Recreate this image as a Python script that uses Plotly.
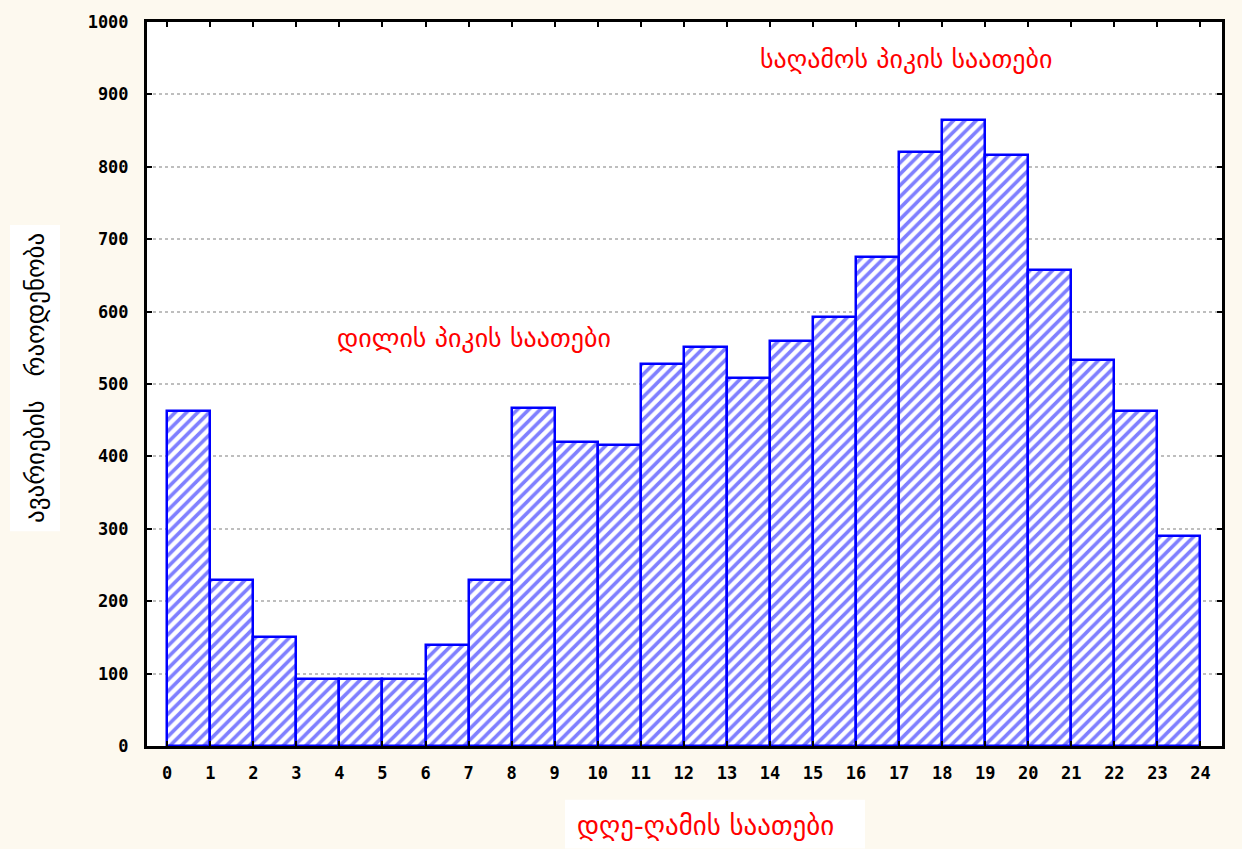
import plotly.graph_objects as go

hours = list(range(24))
counts = [463, 229, 150, 93, 93, 93, 140, 229, 467, 420, 416, 527, 551, 508,
          560, 592, 676, 821, 864, 816, 658, 533, 463, 290]
x_ticks = list(range(25))
y_ticks = list(range(0, 1001, 100))

y_title = "ავარიების   რაოდენობა"
x_title = "დღე-ღამის საათები"
morning = "დილის პიკის საათები"
evening = "საღამოს პიკის საათები"

W, H = 1242, 849
L, R, T, B = 147, 20, 18, 103
pw, ph = W - L - R, H - T - B

def px(xp):
    return (xp - L) / pw

def py(yp):
    return (H - B - yp) / ph

fig = go.Figure()
fig.add_trace(go.Bar(
    x=[h + 0.5 for h in hours], y=counts, width=1,
    marker=dict(color="white", line=dict(color="#0000FF", width=2.5),
                pattern=dict(shape="/", fgcolor="#0000FF", bgcolor="white",
                             size=8, solidity=0.45)),
    showlegend=False,
))

tickfont = dict(family="DejaVu Sans Mono", size=17, color="black", weight="bold")
ann = dict(showarrow=False, xref="paper", yref="paper", xanchor="center", yanchor="middle")
fig.update_layout(
    width=W, height=H,
    margin=dict(l=L, r=R, t=T, b=B),
    paper_bgcolor="#FDF9EF", plot_bgcolor="white",
    bargap=0,
    xaxis=dict(range=[-0.47, 24.5], tickvals=x_ticks, ticktext=[str(v) for v in x_ticks],
               ticks="inside", ticklen=5, tickwidth=2, tickcolor="black",
               showline=True, linecolor="black", linewidth=3, mirror="ticks",
               showgrid=False, zeroline=False, tickfont=tickfont,
               ticklabelstandoff=10),
    yaxis=dict(range=[0, 1000], tickvals=y_ticks, ticks="inside", ticklen=5,
               tickwidth=2, tickcolor="black", showline=True, linecolor="black",
               linewidth=3, mirror="ticks", showgrid=True, gridcolor="#BEBEBE",
               griddash="dot", gridwidth=2, zeroline=False, tickfont=tickfont,
               ticklabelstandoff=12),
    shapes=[
        dict(type="rect", xref="paper", yref="paper", x0=px(10), x1=px(60),
             y0=py(530), y1=py(222), fillcolor="white", line=dict(width=0), layer="below"),
        dict(type="rect", xref="paper", yref="paper", x0=px(565), x1=px(865),
             y0=py(849), y1=py(800), fillcolor="white", line=dict(width=0), layer="below"),
    ],
    annotations=[
        dict(text=y_title, x=px(35), y=py(376), textangle=-90,
             font=dict(family="DejaVu Sans", size=25, color="black"), **ann),
        dict(text=x_title, x=px(705), y=py(826),
             font=dict(family="DejaVu Sans", size=27, color="#FF0000"), **ann),
        dict(text=morning, x=px(474), y=py(336),
             font=dict(family="DejaVu Sans", size=26, color="#FF0000"), **ann),
        dict(text=evening, x=px(906), y=py(55),
             font=dict(family="DejaVu Sans", size=26, color="#FF0000"), **ann),
    ],
)
fig.write_html("out.html", config={"displayModeBar": False},
               post_script="document.body.style.margin='0';document.body.style.padding='0';")
